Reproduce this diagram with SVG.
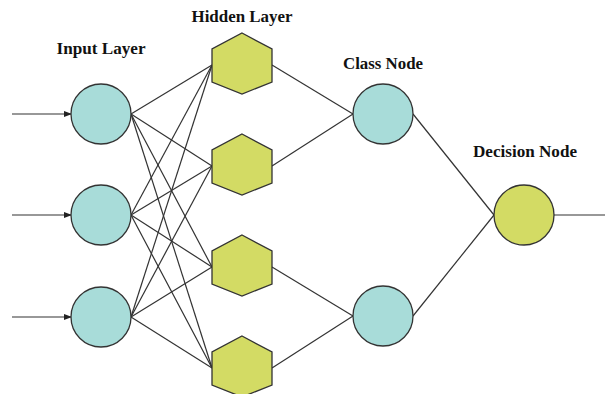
<svg xmlns="http://www.w3.org/2000/svg" width="605" height="394" viewBox="0 0 605 394">
  <defs>
    <marker id="arrow" markerWidth="8" markerHeight="6" refX="7" refY="3" orient="auto" markerUnits="userSpaceOnUse">
      <path d="M0,0 L8,3 L0,6 Z" fill="#222"/>
    </marker>
    <style>
      .edge { stroke: #333; stroke-width: 1.2; fill: none; }
      .teal { fill: #a8dcd9; stroke: #333; stroke-width: 1.3; }
      .lime { fill: #d3db64; stroke: #333; stroke-width: 1.3; }
      .label { font-family: "Liberation Serif", "Times New Roman", serif; font-weight: bold; font-size: 16px; fill: #111; text-anchor: middle; }
    </style>
    <polygon id="hex" points="0,-31 30,-15 30,18 0,30 -30,18 -30,-15"/>
  </defs>

  <g id="connectors">
    <!-- inputs -->
    <line class="edge" x1="12" y1="114" x2="71" y2="114" marker-end="url(#arrow)"/>
    <line class="edge" x1="12" y1="215" x2="71" y2="215" marker-end="url(#arrow)"/>
    <line class="edge" x1="12" y1="317" x2="71" y2="317" marker-end="url(#arrow)"/>
    <!-- input layer to hidden layer (fully connected) -->
    <line class="edge" x1="131" y1="114" x2="212" y2="65"/>
    <line class="edge" x1="131" y1="114" x2="212" y2="166"/>
    <line class="edge" x1="131" y1="114" x2="212" y2="267"/>
    <line class="edge" x1="131" y1="114" x2="212" y2="368"/>
    <line class="edge" x1="131" y1="215" x2="212" y2="65"/>
    <line class="edge" x1="131" y1="215" x2="212" y2="166"/>
    <line class="edge" x1="131" y1="215" x2="212" y2="267"/>
    <line class="edge" x1="131" y1="215" x2="212" y2="368"/>
    <line class="edge" x1="131" y1="317" x2="212" y2="65"/>
    <line class="edge" x1="131" y1="317" x2="212" y2="166"/>
    <line class="edge" x1="131" y1="317" x2="212" y2="267"/>
    <line class="edge" x1="131" y1="317" x2="212" y2="368"/>
    <!-- hidden layer to class nodes -->
    <line class="edge" x1="272" y1="65" x2="353" y2="114"/>
    <line class="edge" x1="272" y1="166" x2="353" y2="114"/>
    <line class="edge" x1="272" y1="267" x2="353" y2="316"/>
    <line class="edge" x1="272" y1="368" x2="353" y2="316"/>
    <!-- class nodes to decision node -->
    <line class="edge" x1="413" y1="114" x2="494" y2="215"/>
    <line class="edge" x1="413" y1="316" x2="494" y2="215"/>
    <!-- output -->
    <line class="edge" x1="554" y1="215" x2="605" y2="215"/>
  </g>

  <g id="input-1"><circle class="teal" cx="101" cy="114" r="30"/></g>
  <g id="input-2"><circle class="teal" cx="101" cy="215" r="30"/></g>
  <g id="input-3"><circle class="teal" cx="101" cy="317" r="30"/></g>

  <g id="hidden-1"><use href="#hex" class="lime" x="242" y="64"/></g>
  <g id="hidden-2"><use href="#hex" class="lime" x="242" y="165"/></g>
  <g id="hidden-3"><use href="#hex" class="lime" x="242" y="266"/></g>
  <g id="hidden-4"><use href="#hex" class="lime" x="242" y="367"/></g>

  <g id="class-1"><circle class="teal" cx="383" cy="114" r="30"/></g>
  <g id="class-2"><circle class="teal" cx="383" cy="316" r="30"/></g>

  <g id="decision"><circle class="lime" cx="524" cy="215" r="30"/></g>

  <g id="labels">
    <text class="label" x="101" y="54" textLength="89" lengthAdjust="spacingAndGlyphs">Input Layer</text>
    <text class="label" x="242" y="22" textLength="101" lengthAdjust="spacingAndGlyphs">Hidden Layer</text>
    <text class="label" x="383" y="69" textLength="80" lengthAdjust="spacingAndGlyphs">Class Node</text>
    <text class="label" x="525" y="157" textLength="104" lengthAdjust="spacingAndGlyphs">Decision Node</text>
  </g>
</svg>
